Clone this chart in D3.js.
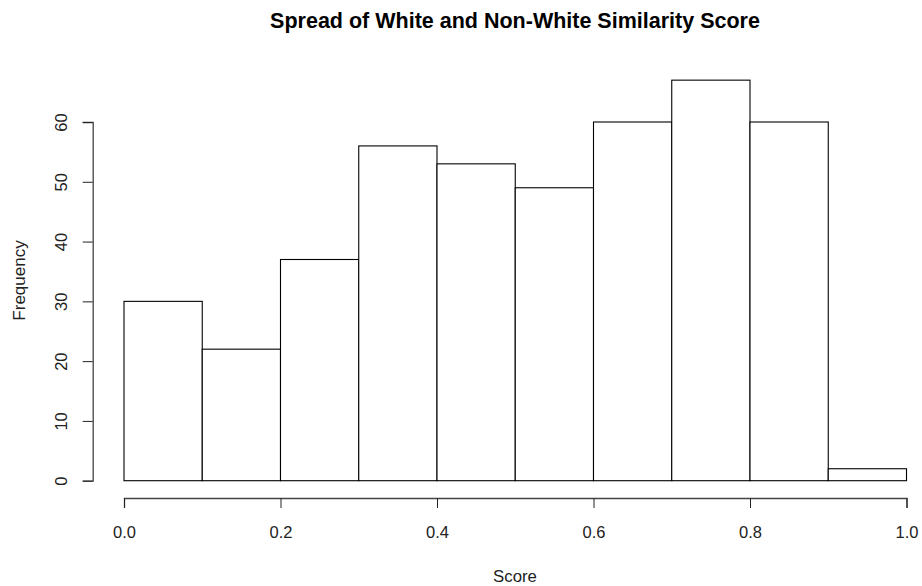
<!DOCTYPE html>
<html>
<head>
<meta charset="utf-8">
<script src="https://cdn.jsdelivr.net/npm/d3@7"></script>
<style>
html,body{margin:0;padding:0;background:#fff;}
text{font-family:"Liberation Sans",Arial,sans-serif;}
</style>
</head>
<body>
<svg id="chart" width="922" height="586"></svg>
<script>
const binStarts = [0.0, 0.1, 0.2, 0.3, 0.4, 0.5, 0.6, 0.7, 0.8, 0.9];
const binWidth = 0.1;
const counts = [30, 22, 37, 56, 53, 49, 60, 67, 60, 2];
const xTicks = [0.0, 0.2, 0.4, 0.6, 0.8, 1.0];
const yTicks = [0, 10, 20, 30, 40, 50, 60];
const titleText = "Spread of White and Non-White Similarity Score";
const xLabel = "Score";
const yLabel = "Frequency";

const svg = d3.select("#chart");
const x = d3.scaleLinear().domain([0, 1]).range([124, 906.5]);
const y = d3.scaleLinear().domain([0, 60]).range([480.7, 122]);

// bars
svg.append("g").selectAll("rect").data(counts).join("rect")
  .attr("x", (d, i) => x(binStarts[i]))
  .attr("width", (d, i) => x(binStarts[i] + binWidth) - x(binStarts[i]))
  .attr("y", d => y(d))
  .attr("height", d => y(0) - y(d))
  .attr("fill", "#fff")
  .attr("stroke", "#000")
  .attr("stroke-width", 1.1);

// x axis
const xAxis = d3.axisBottom(x).tickValues(xTicks).tickFormat(d3.format(".1f")).tickSize(10).tickPadding(0);
const gx = svg.append("g").attr("transform", "translate(0,498)").call(xAxis);
gx.select(".domain").attr("stroke", "#444").attr("stroke-width", 1.3);
gx.selectAll(".tick line").attr("stroke", "#222");
gx.selectAll(".tick text").remove();
gx.selectAll(".tick").append("text")
  .attr("y", 39.5)
  .attr("text-anchor", "middle")
  .attr("font-size", 16.5)
  .attr("fill", "#222")
  .text(d => d3.format(".1f")(d));

// y axis
const yAxis = d3.axisLeft(y).tickValues(yTicks).tickSize(10).tickPadding(0);
const gy = svg.append("g").attr("transform", "translate(92.7,0)").call(yAxis);
gy.select(".domain").attr("stroke", "#444").attr("stroke-width", 1.3);
gy.selectAll(".tick line").attr("stroke", "#222");
gy.selectAll(".tick text").remove();
gy.selectAll(".tick").append("text")
  .attr("transform", "translate(-26,0) rotate(-90)")
  .attr("text-anchor", "middle")
  .attr("font-size", 16.5)
  .attr("fill", "#222")
  .text(d => d);

// title
svg.append("text")
  .attr("x", 515).attr("y", 28.3)
  .attr("text-anchor", "middle")
  .attr("font-size", 21.5).attr("font-weight", "bold")
  .attr("fill", "#000")
  .text(titleText);

// axis labels
svg.append("text")
  .attr("x", 515).attr("y", 581.5)
  .attr("text-anchor", "middle")
  .attr("font-size", 16.8).attr("fill", "#222")
  .text(xLabel);

svg.append("text")
  .attr("transform", "translate(25,280.5) rotate(-90)")
  .attr("text-anchor", "middle")
  .attr("font-size", 17).attr("fill", "#222")
  .text(yLabel);
</script>
</body>
</html>
